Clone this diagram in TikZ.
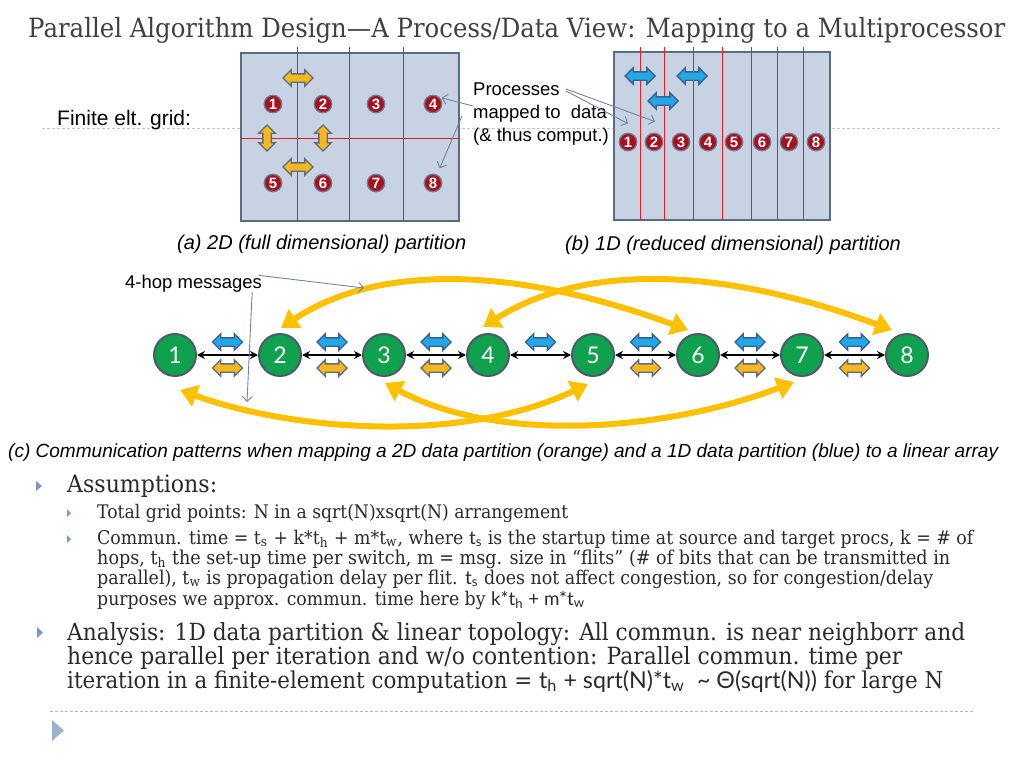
\documentclass[tikz,border=0pt]{standalone}
\usepackage{fontspec}
\setmainfont[FakeStretch=0.92]{DejaVu Serif}
\newfontfamily\titlefont[FakeStretch=0.92]{DejaVu Serif}
\newfontfamily\arial{Liberation Sans}
\newfontfamily\gill{Lato}
\usetikzlibrary{arrows.meta,shapes.arrows,calc}
\definecolor{gridfill}{HTML}{C7D3E3}
\definecolor{gridedge}{HTML}{5A6B83}
\definecolor{redline}{HTML}{EC1C24}
\definecolor{dotred}{HTML}{A8101F}
\definecolor{dotedge}{HTML}{6F7D92}
\definecolor{gold}{HTML}{F6B81F}
\definecolor{goldedge}{HTML}{5D6A7F}
\definecolor{sky}{HTML}{22A9E3}
\definecolor{skyedge}{HTML}{3A5F9B}
\definecolor{nodegreen}{HTML}{10A14E}
\definecolor{nodeedge}{HTML}{4B5A6C}
\definecolor{curvegold}{HTML}{FFC000}
\definecolor{ptrc}{HTML}{7382A2}
\definecolor{titlegrey}{HTML}{404040}
\definecolor{bodytext}{HTML}{2A2A2A}
\definecolor{bulletc}{HTML}{8298B8}
\definecolor{dashc}{HTML}{A6BECC}
\definecolor{dashtop}{HTML}{C0C6CC}
\definecolor{bigtri}{HTML}{9CB1CD}
\tikzset{
  gridbox/.style={fill=gridfill, draw=gridedge, line width=2pt},
  redln/.style={draw=redline, line width=1pt},
  rdot/.style={circle, fill=dotred, draw=dotedge, line width=1.3pt, minimum size=17.5pt, inner sep=0pt, text=white, font=\arial\bfseries\fontsize{15}{15}\selectfont},
  arrowbase/.style={double arrow, double arrow head extend=4pt, inner xsep=0pt, inner ysep=0pt, minimum height=30pt, line width=1.4pt},
  garrow/.style={arrowbase, fill=gold, draw=goldedge},
  barrow/.style={arrowbase, fill=sky, draw=skyedge},
  gnode/.style={circle, fill=nodegreen, draw=nodeedge, line width=2pt, minimum size=42pt, inner sep=0pt, text=white, font=\gill\fontsize{23}{23}\selectfont},
  link/.style={line width=1.8pt, {Stealth[length=8pt,width=8pt]}-{Stealth[length=8pt,width=8pt]}},
  bigcurve/.style={draw=curvegold, line width=6pt, {Triangle[length=17pt,width=22pt]}-{Triangle[length=17pt,width=22pt]}},
  pointer/.style={draw=ptrc, line width=0.9pt, -{Straight Barb[length=5pt,width=10pt]}},
  lbl/.style={inner sep=0pt, anchor=base west},
  body/.style={lbl, text=bodytext},
}
\newcommand{\shaft}{\rule{0pt}{7pt}}
\begin{document}
\begin{tikzpicture}[x=1pt,y=-1pt]
\useasboundingbox (0,0) rectangle (1024,768);
% title
\node[lbl, text=titlegrey] (title) at (28,38) {\resizebox{977pt}{!}{\titlefont Parallel Algorithm Design—A Process/Data View: Mapping to a Multiprocessor}};
% dashed guide line
\draw[dashtop, line width=0.8pt, dash pattern=on 3pt off 2pt] (42,128) -- (1000,128);
\node[lbl, font=\arial\fontsize{21}{21}\selectfont] (fe) at (57,125) {Finite elt. grid:};
% left grid
\draw[gridbox] (241,53) rectangle (459,221);
\foreach \x in {297,349,403} \draw[redln] (\x,47) -- (\x,221);
\draw[redln] (241,138) -- (459,138);
\foreach \n/\x/\y in {1/273/104, 2/323/104, 3/376/104, 4/433/104, 5/273/183, 6/323/183, 7/376/183, 8/433/183}
  \node[rdot] (l\n) at (\x,\y) {\n};
\node[garrow] (la1) at (298,78) {\shaft};
\node[garrow, rotate=90, minimum height=26pt] (la2) at (267,138) {\shaft};
\node[garrow, rotate=90, minimum height=26pt] (la3) at (323,138) {\shaft};
\node[garrow] (la4) at (298,167) {\shaft};
% right grid
\draw[gridbox] (614,52) rectangle (830,220);
\foreach \x in {640,664,693,722,751,777,803} \draw[redln] (\x,47) -- (\x,220);
\foreach \n/\x in {1/628, 2/654, 3/681, 4/708, 5/734, 6/762, 7/789, 8/816}
  \node[rdot] (r\n) at (\x,142) {\n};
\node[barrow] (ra1) at (640,76) {\shaft};
\node[barrow] (ra2) at (692,76) {\shaft};
\node[barrow] (ra3) at (663,101) {\shaft};
% processes label
\node[inner sep=0pt, anchor=north west, align=left, font=\arial\fontsize{18.5}{23}\selectfont] (proc) at (473,83) {Processes\\mapped to\ \ data\\(\& thus comput.)};
\coordinate (pa) at (473,106);
\coordinate (pb) at (462,116);
\coordinate (pc) at (566,91);
\coordinate (pd) at (566,89);
\draw[pointer, shorten >=2pt] (pa) -- (l4.north east);
\draw[pointer] (pb) -- ($(l8.north east)+(0,-8)$);
\draw[pointer] (pc) -- ($(r1.north)+(0,-9)$);
\draw[pointer] (pd) -- ($(r2.north)+(1,-11)$);
% captions
\node[lbl, font=\arial\itshape\fontsize{20}{20}\selectfont] (capa) at (177,249) {(a) 2D (full dimensional) partition};
\node[lbl, font=\arial\itshape\fontsize{20}{20}\selectfont] (capb) at (565,250) {(b) 1D (reduced dimensional) partition};
% linear array
\foreach \n/\x in {1/175,2/280,3/384,4/488,5/593,6/698,7/802,8/907}
  \node[gnode] (g\n) at (\x,355) {\n};
\foreach \a/\b in {1/2,2/3,3/4,4/5,5/6,6/7,7/8} {
  \draw[link] (g\a) -- (g\b);
  \node[barrow] (b\a) at ($(g\a)!0.5!(g\b)+(0,-13)$) {\shaft};
}
\foreach \a/\b in {1/2,2/3,3/4,5/6,6/7,7/8}
  \node[garrow] (o\a) at ($(g\a)!0.5!(g\b)+(0,13)$) {\shaft};
% 4-hop curves
\draw[bigcurve] ($(g2)+(1,-27)$) .. controls (380,262) and (520,268) .. ($(g6)+(-10,-25)$);
\draw[bigcurve] ($(g4)+(-5,-28)$) .. controls (585,262) and (725,268) .. ($(g8)+(-15,-25)$);
\draw[bigcurve] ($(g1)+(5,35)$) .. controls (290,430) and (460,445) .. ($(g5)+(-5,29)$);
\draw[bigcurve] ($(g3)+(1,28)$) .. controls (500,445) and (670,430) .. ($(g7)+(-8,27)$);
% 4-hop label
\node[lbl, font=\arial\fontsize{18.5}{18.5}\selectfont] (hop) at (125,288) {4-hop messages};
\coordinate (hopA) at (364,288);
\coordinate (hopB) at (247,402);
\draw[pointer] ($(hop.north east)+(-3,1)$) -- (hopA);
\draw[pointer] ($(hop.south east)+(-10,0)$) -- (hopB);
% caption c
\node[lbl, font=\arial\itshape\fontsize{19}{19}\selectfont] (capc) at (8,457) {\resizebox{990pt}{!}{(c) Communication patterns when mapping a 2D data partition (orange) and a 1D data partition (blue) to a linear array}};
% bullets
\fill[bulletc] (36,481) -- (42,486) -- (36,491) -- cycle;
\fill[bulletc] (67,509) -- (71,513) -- (67,517) -- cycle;
\fill[bulletc] (67,535) -- (71,539) -- (67,543) -- cycle;
\fill[bulletc] (37,627) -- (43,632.5) -- (37,638) -- cycle;
% body text
\node[body] (t1) at (67,492) {\resizebox{150pt}{!}{Assumptions:}};
\node[body] (t2) at (97,518) {\resizebox{471pt}{!}{Total grid points: N in a sqrt(N)xsqrt(N) arrangement}};
\node[body] (t3) at (97,544) {\resizebox{876pt}{!}{Commun. time = t\textsubscript{s} + k*t\textsubscript{h} + m*t\textsubscript{w}, where {\gill t\textsubscript{s}} is the startup time at source and target procs, k = \# of}};
\node[body] (t4) at (97,564) {\resizebox{853pt}{!}{hops, t\textsubscript{h} the set-up time per switch, m = msg. size in “flits” (\# of bits that can be transmitted in}};
\node[body] (t5) at (97,584) {\resizebox{836pt}{!}{parallel), t\textsubscript{w} is propagation delay per flit. {\gill t\textsubscript{s}} does not affect congestion, so for congestion/delay}};
\node[body] (t6) at (97,605) {\resizebox{488pt}{!}{purposes we approx. commun. time here by {\gill k*t\textsubscript{h} + m*t\textsubscript{w}}}};
\node[body] (t7) at (67,640) {\resizebox{898pt}{!}{Analysis: 1D data partition \& linear topology: All commun. is near neighborr and}};
\node[body] (t8) at (67,664) {\resizebox{835pt}{!}{hence parallel per iteration and w/o contention: Parallel commun. time per}};
\node[body] (t9) at (67,688) {\resizebox{876pt}{!}{iteration in a finite-element computation = {\gill t\textsubscript{h} + sqrt(N)*t\textsubscript{w}\ \ \textasciitilde\ Θ(sqrt(N))} for large N}};
% bottom rule and marker
\draw[dashc, line width=0.8pt, dash pattern=on 3pt off 2pt] (50,711) -- (973,711);
\fill[bigtri] (52,720) -- (64,730.5) -- (52,741) -- cycle;
\end{tikzpicture}
\end{document}
